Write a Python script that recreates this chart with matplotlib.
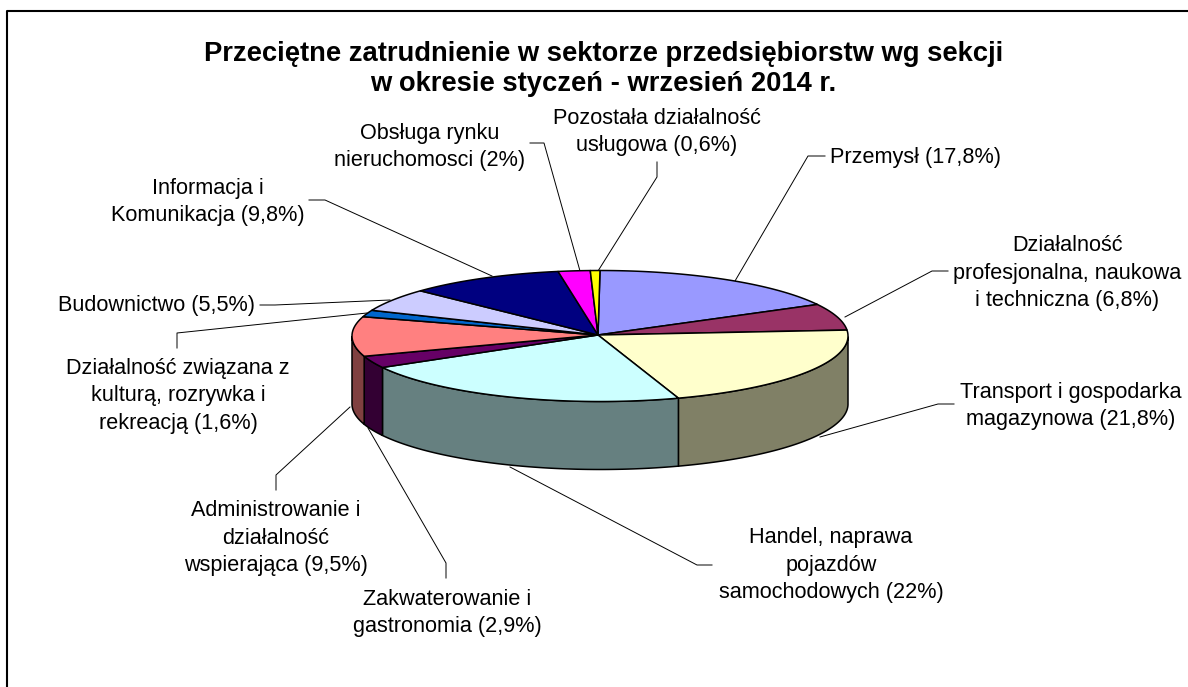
import numpy as np
import matplotlib
matplotlib.use("Agg")
import matplotlib.pyplot as plt
from matplotlib.patches import Polygon

sections = ["Przemysł", "Działalność profesjonalna", "Transport", "Handel", "Zakwaterowanie",
            "Administrowanie", "Kultura", "Budownictwo", "Informacja", "Nieruchomości", "Pozostała"]
shares = [17.8, 6.8, 21.8, 22.0, 2.9, 9.5, 1.6, 5.5, 9.8, 2.0, 0.6]
top_colors = ["#9999FF", "#993366", "#FFFFCC", "#CCFFFF", "#660066", "#FF8080",
              "#0066CC", "#CCCCFF", "#000080", "#FF00FF", "#FFFF00"]
labels = ["Przemysł (17,8%)", "Działalność\nprofesjonalna, naukowa\ni techniczna (6,8%)",
          "Transport i gospodarka\nmagazynowa (21,8%)", "Handel, naprawa\npojazdów\nsamochodowych (22%)",
          "Zakwaterowanie i\ngastronomia (2,9%)", "Administrowanie i\ndziałalność\nwspierająca (9,5%)",
          "Działalność związana z\nkulturą, rozrywka i\nrekreacją (1,6%)", "Budownictwo (5,5%)",
          "Informacja i\nKomunikacja (9,8%)", "Obsługa rynku\nnieruchomosci (2%)",
          "Pozostała działalność\nusługowa (0,6%)"]
title = "Przeciętne zatrudnienie w sektorze przedsiębiorstw wg sekcji\nw okresie styczeń - wrzesień 2014 r."

label_xy = [(916, 158), (1067, 273), (1071, 406), (831, 565), (447, 613), (276, 538),
            (178, 396), (157, 305), (208, 202), (430, 147), (657, 132)]
leaders = [[(735, 281), (808, 156), (825, 156)],
           [(845, 317), (932, 271), (948, 271)],
           [(820, 437), (938, 404), (954, 404)],
           [(510, 467), (697, 565), (712, 565)],
           [(368, 428), (446, 563), (446, 578)],
           [(350, 407), (276, 475), (276, 490)],
           [(367, 313), (177, 333), (177, 348)],
           [(390, 300), (275, 305), (260, 305)],
           [(492, 276), (325, 200), (309, 200)],
           [(580, 271), (544, 143), (530, 143)],
           [(598, 271), (657, 177), (657, 162)]]

cx, cy, rx, ry, depth = 600, 336, 248, 65.5, 68
apex = (598, 335)
SKEW = 5.0


def view_angle(theta):
    return np.asarray(theta, float) - SKEW * np.sin(np.radians(np.asarray(theta, float) / 2))


def edge(theta):
    t = np.radians(view_angle(theta))
    return cx + rx * np.sin(t), cy - ry * np.cos(t)


fig = plt.figure(figsize=(11.88, 6.87), dpi=100)
ax = fig.add_axes([0, 0, 1, 1])
ax.set_xlim(0, 1188)
ax.set_ylim(687, 0)
ax.axis("off")
plt.rcParams["font.family"] = ["Liberation Sans", "DejaVu Sans"]

ax.plot([7, 7, 1188], [687, 11, 11], color="black", lw=1.5, solid_capstyle="butt", zorder=1)

for pts in leaders:
    xs, ys = zip(*pts)
    ax.plot(xs, ys, color="black", lw=0.7, zorder=1.5)

bounds = np.concatenate([[0], np.cumsum(shares)]) / sum(shares) * 360
for i, col in enumerate(top_colors):
    th = np.linspace(bounds[i], bounds[i + 1], 120)
    vis = (view_angle(th) >= 90) & (view_angle(th) <= 270)
    if vis.sum() >= 2:
        x, y = edge(th[vis])
        pts = np.r_[np.c_[x, y], np.c_[x, y + depth][::-1]]
        side = tuple(c * 0.5 for c in matplotlib.colors.to_rgb(col))
        ax.add_patch(Polygon(pts, fc=side, ec="black", lw=1.1, zorder=2))

for i, col in enumerate(top_colors):
    th = np.linspace(bounds[i], bounds[i + 1], max(int(bounds[i + 1] - bounds[i]) * 3, 6))
    x, y = edge(th)
    pts = np.r_[[apex], np.c_[x, y]]
    ax.add_patch(Polygon(pts, fc=col, ec="black", lw=1.1, joinstyle="round", zorder=3))

for txt, (x, y) in zip(labels, label_xy):
    ax.text(x, y, txt, ha="center", va="center", ma="center", fontsize=15.6, linespacing=1.39,
            color="black", zorder=5)

ax.text(603.5, 69, title, ha="center", va="center", ma="center", fontsize=19.7, fontweight="bold",
        linespacing=1.21, zorder=5)

fig.savefig("out.png", dpi=100, facecolor="white")
